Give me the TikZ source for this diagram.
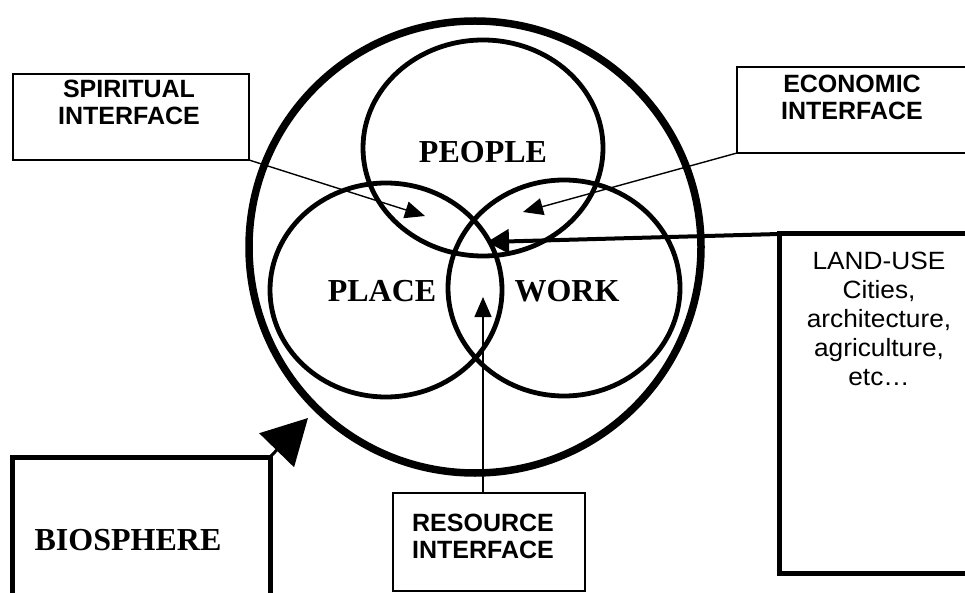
\documentclass[tikz,border=0pt]{standalone}
\usepackage{fontspec}
\setmainfont{Liberation Serif}
\newfontfamily\arialw{Liberation Sans}
\newfontfamily\ariall[FakeStretch=1.05]{Liberation Sans}
\usetikzlibrary{arrows.meta,shapes.geometric}
\begin{document}
\begin{tikzpicture}[x=1pt,y=-1pt,
  ring/.style={draw, ellipse, inner sep=0pt, line width=4.8pt},
  ibox/.style={draw, rectangle, line width=1.4pt, inner sep=0pt, outer sep=0pt},
  tbox/.style={draw, rectangle, line width=5pt, inner sep=0pt, outer sep=0pt},
  itext/.style={font=\arialw\bfseries\fontsize{25}{27}\selectfont, align=center, inner sep=0pt},
  ltext/.style={font=\ariall\fontsize{25}{29}\selectfont, align=center, inner sep=0pt},
  ctext/.style={font=\bfseries\fontsize{32}{36}\selectfont, inner sep=0pt},
  thinarrow/.style={line width=1.4pt, -{Triangle[length=20pt,width=17pt]}},
]
\clip (0,0) rectangle (965,593);
\fill[white] (0,0) rectangle (965,593);

% circles
\node[draw, circle, line width=7.5pt, minimum size=452pt, inner sep=0pt] (world) at (475,247) {};
\node[ring, minimum width=240pt, minimum height=216pt] (people) at (483,148) {};
\node[ring, minimum width=232pt, minimum height=214pt] (place) at (386,290) {};
\node[ring, minimum width=232pt, minimum height=216pt] (work) at (564,288) {};

\node[ctext] (peopletext) at (483,152) {PEOPLE};
\node[ctext] (placetext) at (382,291) {PLACE};
\node[ctext] (worktext) at (567,291) {WORK};

% interface boxes
\node[ibox, minimum width=236pt, minimum height=86pt, anchor=south west] (spirit) at (13,160) {};
\node[itext] (spirittext) at (129,102) {SPIRITUAL\\INTERFACE};

\node[ibox, minimum width=240pt, minimum height=86pt, anchor=south west] (econ) at (737,153) {};
\node[itext] (econtext) at (852,97) {ECONOMIC\\INTERFACE};

\node[ibox, minimum width=192pt, minimum height=98pt, anchor=north west] (res) at (393,493) {};
\node[itext] (restext) at (483,536) {RESOURCE\\INTERFACE};

% land use box
\node[tbox, minimum width=200pt, minimum height=339pt, anchor=north west] (land) at (779,234) {};
\node[ltext] (landtext) at (879,319) {LAND-USE\\Cities,\\architecture,\\agriculture,\\etc…};

% biosphere box
\node[tbox, minimum width=258pt, minimum height=200pt, anchor=north west] (bio) at (12,457) {};
\node[ctext] (biotext) at (128,540) {BIOSPHERE};

% arrow tips
\coordinate (tipS) at (425,216);
\coordinate (tipE) at (523,212);
\coordinate (tipL) at (487,242);
\coordinate (tipR) at (483,297);
\coordinate (tipB) at (308,418);

\draw[thinarrow] (spirit.south east) -- (tipS);
\draw[thinarrow] (econ.south west) -- (tipE);
\draw[thinarrow] (res.north -| tipR) -- (tipR);
\draw[line width=4pt, -{Triangle[length=22pt,width=24pt]}] (land.north west) -- (tipL);
\draw[line width=3pt, -{Triangle[length=45pt,width=48pt]}] (bio.north east) -- (tipB);
\end{tikzpicture}
\end{document}
